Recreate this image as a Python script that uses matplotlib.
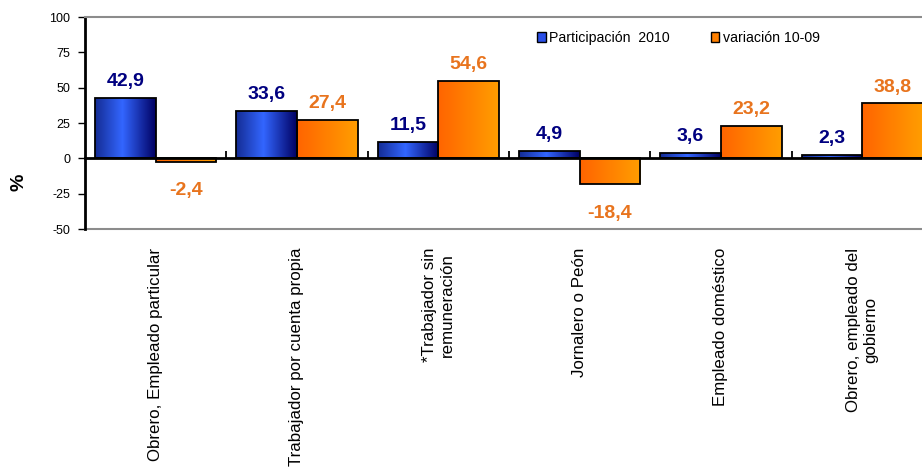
import numpy as np
import matplotlib.pyplot as plt
from matplotlib.colors import LinearSegmentedColormap
from matplotlib.patches import Patch

plt.rcParams['font.family'] = ['Liberation Sans', 'DejaVu Sans']
plt.rcParams['axes.unicode_minus'] = False

# datos
categorias = ["Obrero, Empleado particular", "Trabajador por cuenta propia",
              "*Trabajador sin\nremuneración", "Jornalero o Peón",
              "Empleado doméstico", "Obrero, empleado del\ngobierno"]
participacion = [42.9, 33.6, 11.5, 4.9, 3.6, 2.3]
variacion = [-2.4, 27.4, 54.6, -18.4, 23.2, 38.8]
ticks_y = [-50, -25, 0, 25, 50, 75, 100]
series = ["Participación  2010", "variación 10-09"]

fig = plt.figure(figsize=(9.22, 4.70), dpi=100)
ax = fig.add_axes([85/922, 241/470, 848/922, 212/470])

x = np.arange(len(categorias))
w = 0.43
b1 = ax.bar(x - w/2, participacion, w, facecolor='none', edgecolor='black', lw=1.3, zorder=3)
b2 = ax.bar(x + w/2, variacion, w, facecolor='none', edgecolor='black', lw=1.3, zorder=3)

# relleno degradado
azul = LinearSegmentedColormap.from_list('azul', [(0, '#142c94'), (0.45, '#3366ff'), (1, '#000062')])
naranja = LinearSegmentedColormap.from_list('naranja', ['#ff6400', '#ff9e00'])
grad = np.linspace(0, 1, 256).reshape(1, -1)

def rellenar(barras, cmap):
    for r in barras:
        x0, y0 = r.get_xy()
        im = ax.imshow(grad, cmap=cmap, aspect='auto', zorder=2,
                       extent=[x0, x0 + r.get_width(), y0, y0 + r.get_height()])
        im.set_clip_path(r)

rellenar(b1, azul)
rellenar(b2, naranja)

ax.set_aspect('auto')
ax.set_xlim(-0.5, len(categorias) - 0.5)
ax.set_ylim(-50, 100)

# etiquetas de valores
def etiquetar(xs, vals, color):
    for xi, v in zip(xs, vals):
        off = 8.6 if v >= 0 else -24
        ax.annotate(f"{v:.1f}".replace('.', ','), (xi, v), xytext=(0, off),
                    textcoords='offset points', ha='center', va='baseline',
                    fontsize=14, fontweight='bold', color=color, zorder=4)

etiquetar(x - w/2, participacion, '#000080')
etiquetar(x + w/2, variacion, '#E8741E')

# ejes
for s in ['top', 'right']:
    ax.spines[s].set_color('#8c8c8c')
    ax.spines[s].set_linewidth(1.5)
ax.spines['left'].set_color('black')
ax.spines['left'].set_linewidth(2)
ax.spines['bottom'].set_position(('data', 0))
ax.spines['bottom'].set_linewidth(2)
ax.spines['bottom'].set_zorder(5)
ax.plot([0, 1], [0, 0], transform=ax.transAxes, color='#8c8c8c', lw=1.5, clip_on=False)

ax.set_yticks(ticks_y)
ax.tick_params(axis='y', direction='out', length=5, width=1, labelsize=9, pad=5.5)
ax.set_xticks(x, [''] * len(x))
ax.tick_params(axis='x', which='major', length=0)
ax.set_xticks(x[:-1] + 0.5, minor=True)
ax.tick_params(axis='x', which='minor', direction='in', length=5, width=1.3)

for i, c in enumerate(categorias):
    ax.text(i, -19/212, c, transform=ax.get_xaxis_transform(), rotation=90,
            ha='center', va='top', multialignment='center', fontsize=12.2)

fig.text(19/922, 1 - 182/470, '%', rotation=90, ha='center', va='center',
         fontsize=14, fontweight='bold')

handles = [Patch(facecolor='#2a4fe8', edgecolor='black', lw=1),
           Patch(facecolor='#ff8000', edgecolor='black', lw=1)]
fig.legend(handles, series, ncol=2, frameon=False, loc='center left',
           bbox_to_anchor=(537/922, 1 - 38/470), borderpad=0, borderaxespad=0,
           handlelength=0.6, handleheight=0.7, handletextpad=0.25,
           columnspacing=2.9, fontsize=10.2)

fig.savefig('out.png', dpi=100)
